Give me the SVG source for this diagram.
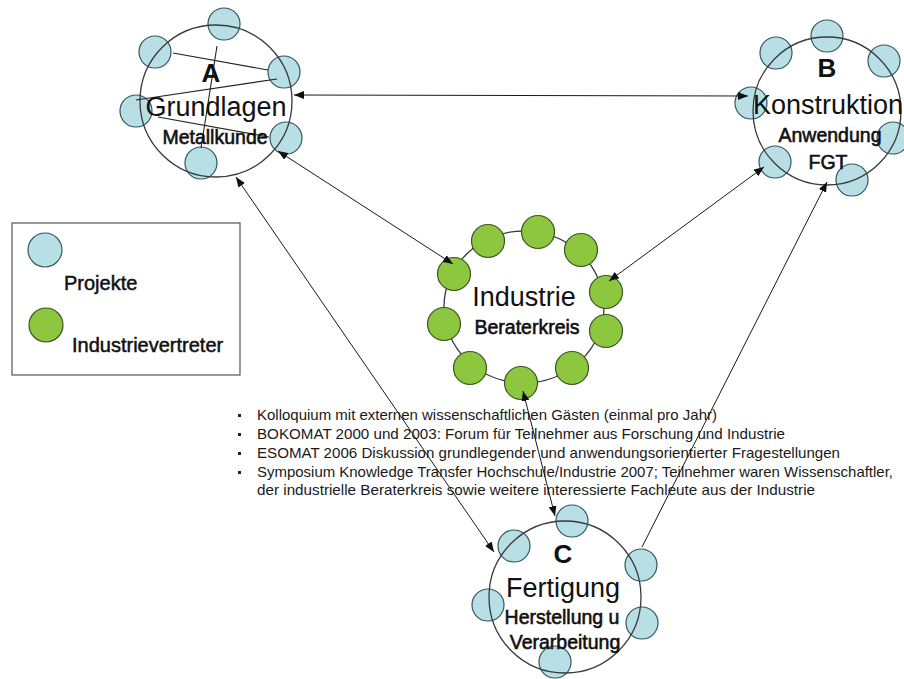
<svg xmlns="http://www.w3.org/2000/svg" width="904" height="679" viewBox="0 0 904 679">
  <style>
    .proj { fill: #b8dfe5; stroke: #34565c; stroke-width: 1.2; }
    .ind { fill: #8dc63f; stroke: #3c5524; stroke-width: 1.2; }
    .ring { fill: none; stroke: #3a3a3a; stroke-width: 1.3; }
    .link { fill: none; stroke: #222; stroke-width: 1.1; }
    .t { font-family: "Liberation Sans", Arial, sans-serif; fill: #111; text-anchor: middle; }
    .big { font-size: 27px; }
    .sub { font-size: 19.5px; stroke: #111; stroke-width: 0.6; }
    .letter { font-size: 26px; font-weight: bold; }
    .leg { font-family: "Liberation Sans", Arial, sans-serif; font-size: 20px; fill: #111; stroke: #111; stroke-width: 0.5; }
    .bul { font-family: "Liberation Sans", Arial, sans-serif; font-size: 14.5px; fill: #1a1a1a; }
    .conn { fill: none; stroke: #1a1a1a; stroke-width: 1; }
  </style>
  <defs>
    <marker id="arr" viewBox="0 0 10 8" refX="10" refY="4" markerWidth="10" markerHeight="8" markerUnits="userSpaceOnUse" orient="auto-start-reverse">
      <path d="M0,0 L10,4 L0,8 Z" fill="#111"/>
    </marker>
  </defs>

  <rect width="904" height="679" fill="#ffffff"/>

  <!-- Node A: Grundlagen -->
  <g id="nodeA">
    <circle class="proj" cx="224" cy="24" r="16"/>
    <circle class="proj" cx="155" cy="52" r="16"/>
    <circle class="proj" cx="284" cy="72" r="16"/>
    <circle class="proj" cx="136" cy="111" r="16"/>
    <circle class="proj" cx="286" cy="138" r="16"/>
    <circle class="proj" cx="201" cy="163" r="16"/>
    <circle class="ring" cx="216" cy="101" r="76"/>
    <path class="link" d="M173,53 L268,70 M277,79 L136,100 M217,46 L201,148 M158,117 L269,137"/>
    <text class="t letter" x="211" y="82">A</text>
    <text class="t big" x="216" y="116">Grundlagen</text>
    <text class="t sub" x="215" y="144">Metallkunde</text>
  </g>

  <!-- Node B: Konstruktion -->
  <g id="nodeB">
    <circle class="proj" cx="827" cy="36" r="16"/>
    <circle class="proj" cx="776" cy="53" r="16"/>
    <circle class="proj" cx="884" cy="61" r="16"/>
    <circle class="proj" cx="751" cy="103" r="16"/>
    <circle class="proj" cx="893" cy="138" r="16"/>
    <circle class="proj" cx="775" cy="162" r="16"/>
    <circle class="proj" cx="852" cy="180" r="16"/>
    <circle class="ring" cx="827" cy="111" r="74"/>
    <text class="t letter" x="827" y="77">B</text>
    <text class="t big" x="828" y="114">Konstruktion</text>
    <text class="t sub" x="830" y="142">Anwendung</text>
    <text class="t sub" x="828" y="169">FGT</text>
  </g>

  <!-- Node Industrie: Beraterkreis -->
  <g id="nodeIndustrie">
    <ellipse class="ring" cx="524" cy="307" rx="80" ry="76"/>
    <circle class="ind" cx="488" cy="241" r="16.5"/>
    <circle class="ind" cx="538" cy="232" r="16.5"/>
    <circle class="ind" cx="581" cy="250" r="16.5"/>
    <circle class="ind" cx="454" cy="274" r="16.5"/>
    <circle class="ind" cx="606" cy="292" r="16.5"/>
    <circle class="ind" cx="444" cy="324" r="16.5"/>
    <circle class="ind" cx="606" cy="331" r="16.5"/>
    <circle class="ind" cx="470" cy="368" r="16.5"/>
    <circle class="ind" cx="572" cy="368" r="16.5"/>
    <circle class="ind" cx="521" cy="383" r="16.5"/>
    <text class="t big" x="524" y="306">Industrie</text>
    <text class="t sub" x="527" y="334">Beraterkreis</text>
  </g>

  <!-- Node C: Fertigung -->
  <g id="nodeC">
    <circle class="proj" cx="572" cy="521" r="16"/>
    <circle class="proj" cx="514" cy="546" r="16"/>
    <circle class="proj" cx="641" cy="565" r="16"/>
    <circle class="proj" cx="488" cy="605" r="16"/>
    <circle class="proj" cx="642" cy="623" r="16"/>
    <circle class="proj" cx="555" cy="662" r="16"/>
    <circle class="ring" cx="565" cy="597" r="76"/>
    <text class="t letter" x="563" y="563">C</text>
    <text class="t big" x="563" y="597">Fertigung</text>
    <text class="t sub" x="562" y="624">Herstellung u</text>
    <text class="t sub" x="565" y="649">Verarbeitung</text>
  </g>

  <!-- Legend -->
  <g id="legend">
    <rect x="12" y="223" width="228" height="152" fill="#ffffff" stroke="#555" stroke-width="1.2"/>
    <circle class="proj" cx="45" cy="250" r="17"/>
    <text class="leg" x="64" y="290">Projekte</text>
    <circle class="ind" cx="46" cy="325" r="17"/>
    <text class="leg" x="72" y="352">Industrievertreter</text>
  </g>

  <!-- Events list -->
  <g id="events">
    <rect x="238" y="414" width="3" height="3" fill="#222"/>
    <rect x="238" y="433" width="3" height="3" fill="#222"/>
    <rect x="238" y="452" width="3" height="3" fill="#222"/>
    <rect x="238" y="471" width="3" height="3" fill="#222"/>
    <text class="bul" x="257" y="420" textLength="460" lengthAdjust="spacingAndGlyphs">Kolloquium mit externen wissenschaftlichen Gästen (einmal pro Jahr)</text>
    <text class="bul" x="257" y="439" textLength="528" lengthAdjust="spacingAndGlyphs">BOKOMAT 2000 und 2003: Forum für Teilnehmer aus Forschung und Industrie</text>
    <text class="bul" x="257" y="458" textLength="583" lengthAdjust="spacingAndGlyphs">ESOMAT 2006 Diskussion grundlegender und anwendungsorientierter Fragestellungen</text>
    <text class="bul" x="257" y="477" textLength="636" lengthAdjust="spacingAndGlyphs">Symposium Knowledge Transfer Hochschule/Industrie 2007; Teilnehmer waren Wissenschaftler,</text>
    <text class="bul" x="257" y="495" textLength="558" lengthAdjust="spacingAndGlyphs">der industrielle Beraterkreis sowie weitere interessierte Fachleute aus der Industrie</text>
  </g>

  <!-- Connectors -->
  <g id="connectors">
    <line class="conn" x1="294" y1="95" x2="748" y2="96" marker-start="url(#arr)" marker-end="url(#arr)"/>
    <line class="conn" x1="278" y1="151" x2="453" y2="264" marker-start="url(#arr)" marker-end="url(#arr)"/>
    <line class="conn" x1="236" y1="177" x2="494" y2="552" marker-start="url(#arr)" marker-end="url(#arr)"/>
    <line class="conn" x1="764" y1="167" x2="609" y2="281" marker-start="url(#arr)" marker-end="url(#arr)"/>
    <line class="conn" x1="827" y1="182" x2="642" y2="547" marker-start="url(#arr)"/>
    <line class="conn" x1="523" y1="391" x2="555" y2="516" marker-start="url(#arr)" marker-end="url(#arr)"/>
  </g>
</svg>
